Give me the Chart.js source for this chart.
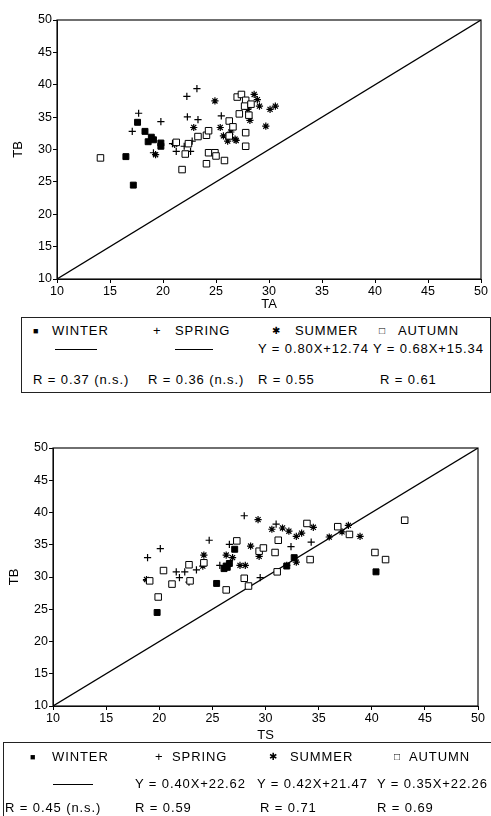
<!DOCTYPE html>
<html>
<head>
<meta charset="utf-8">
<script src="https://cdn.jsdelivr.net/npm/chart.js@4/dist/chart.umd.min.js"></script>
<style>
  html,body{margin:0;padding:0;background:#fff;}
  body{width:491px;height:816px;position:relative;overflow:hidden;font-family:"Liberation Sans",Arial,sans-serif;color:#000;}
  canvas{position:absolute;left:0;}
  .box{position:absolute;border:1px solid #222;box-sizing:border-box;}
  .t{position:absolute;font-size:13px;line-height:14px;letter-spacing:0.9px;white-space:nowrap;}
  .ln{position:absolute;height:0;border-top:1.2px solid #000;}
  .mk{position:absolute;font-size:12px;line-height:14px;white-space:nowrap;}
</style>
</head>
<body>
<canvas id="c1" width="491" height="312" style="top:0px"></canvas>
<canvas id="c2" width="491" height="330" style="top:420px"></canvas>
<div id="leg"></div>
<script>
// ---------- data ----------
const seasons = ['WINTER', 'SPRING', 'SUMMER', 'AUTUMN'];
const axisTicks = [10, 15, 20, 25, 30, 35, 40, 45, 50];
const diagonal = [10, 50];

// Top panel: TA (x) vs TB (y)
const winterTA = [17.6, 16.5, 17.2, 18.3, 18.6, 18.9, 19.1, 19.8, 19.8];
const winterTB1 = [34.2, 28.9, 24.5, 32.8, 31.2, 31.9, 31.5, 31.0, 30.5];
const springTA = [17.7, 17.1, 19.8, 19.1, 22.25, 23.2, 22.3, 23.3, 20.9, 21.25, 22.0, 22.75, 25.5, 22.6];
const springTB1 = [35.6, 32.8, 34.3, 29.5, 38.2, 39.4, 35.05, 34.6, 30.9, 29.7, 30.5, 31.3, 35.2, 29.7];
const summerTA = [24.9, 22.9, 25.4, 25.7, 26.1, 26.8, 26.4, 26.9, 28.6, 28.9, 28.1, 28.0, 29.1, 28.2, 30.1, 30.6, 29.7, 21.1, 19.3, 27.8];
const summerTB1 = [37.5, 33.4, 33.4, 32.1, 31.3, 31.6, 32.7, 31.4, 38.5, 37.7, 36.7, 36.2, 36.7, 34.5, 36.2, 36.7, 33.6, 30.8, 29.2, 37.2];
const autumnTA = [14.1, 21.8, 21.25, 22.1, 22.4, 23.3, 24.1, 24.3, 24.1, 24.3, 24.9, 25.0, 25.8, 26.25, 26.6, 27.0, 27.4, 27.8, 27.2, 28.1, 27.8, 27.8, 27.7, 28.3, 26.25];
const autumnTB1 = [28.7, 26.9, 31.1, 29.3, 30.9, 32.0, 32.2, 32.9, 27.8, 29.5, 29.5, 29.0, 28.3, 34.4, 33.5, 38.1, 38.5, 37.6, 35.5, 35.3, 32.6, 30.5, 36.7, 37.0, 32.1];

// Bottom panel: TS (x) vs TB (y)
const winterTS = [19.8, 25.4, 26.3, 26.1, 26.6, 27.1, 32.0, 32.7, 40.4, 26.4];
const winterTB2 = [24.5, 29.0, 31.7, 31.3, 32.1, 34.3, 31.7, 33.0, 30.8, 31.5];
const springTS = [18.9, 20.1, 18.8, 21.6, 21.9, 22.4, 22.8, 23.5, 24.7, 25.7, 26.6, 28.0, 31.0, 32.4, 34.3, 29.5];
const springTB2 = [33.0, 34.4, 29.5, 30.8, 29.9, 30.8, 29.2, 31.1, 35.7, 31.8, 35.05, 39.5, 38.2, 34.7, 35.4, 29.9];
const summerTS = [18.8, 24.2, 26.3, 27.6, 28.1, 28.6, 29.3, 29.4, 30.6, 31.6, 32.2, 32.9, 33.4, 34.5, 36.0, 37.2, 37.8, 38.9, 32.0, 32.9, 24.1, 26.9];
const summerTB2 = [29.6, 33.4, 33.4, 31.8, 31.8, 34.8, 38.9, 33.2, 37.4, 37.6, 37.1, 36.3, 36.8, 37.7, 36.2, 37.0, 38.0, 36.3, 31.8, 32.3, 31.7, 33.0];
const autumnTS = [19.1, 19.9, 20.4, 21.2, 22.8, 22.9, 24.2, 26.3, 27.3, 28.0, 28.4, 29.4, 29.8, 30.9, 31.2, 31.1, 33.9, 34.2, 36.8, 37.9, 40.3, 41.3, 43.1];
const autumnTB2 = [29.4, 26.9, 31.0, 28.9, 31.9, 29.4, 32.2, 28.0, 35.6, 29.8, 28.6, 34.0, 34.5, 33.8, 35.7, 30.8, 38.3, 32.7, 37.8, 36.6, 33.8, 32.7, 38.8];

// Legend texts
const topEquations = ['', '', 'Y = 0.80X+12.74', 'Y = 0.68X+15.34'];
const topR = ['R = 0.37 (n.s.)', 'R = 0.36 (n.s.)', 'R = 0.55', 'R = 0.61'];
const botEquations = ['', 'Y = 0.40X+22.62', 'Y = 0.42X+21.47', 'Y = 0.35X+22.26'];
const botR = ['R = 0.45 (n.s.)', 'R = 0.59', 'R = 0.71', 'R = 0.69'];

// ---------- helpers ----------
const pair = (xs, ys) => xs.map((x, i) => ({x: x, y: ys[i]}));
const FONT = '"Liberation Sans", Arial, sans-serif';

const framePlugin = {
  id: 'frame',
  beforeDatasetsDraw(chart) {
    const {ctx, chartArea: a} = chart;
    ctx.save();
    ctx.strokeStyle = '#111';
    ctx.lineWidth = 1.2;
    ctx.strokeRect(a.left, a.top, a.right - a.left, a.bottom - a.top);
    ctx.restore();
  }
};

function makeChart(id, sets, xTitle, lay) {
  const styles = [
    {pointStyle: 'rect', radius: 4.2, bg: '#000', bc: '#000', bw: 1},
    {pointStyle: 'cross', radius: 3.6, bg: '#000', bc: '#000', bw: 1.2},
    {pointStyle: 'star', radius: 3.6, bg: '#000', bc: '#000', bw: 1.2},
    {pointStyle: 'rect', radius: 4.6, bg: '#fff', bc: '#000', bw: 1}
  ];
  const datasets = [{
    type: 'line',
    data: pair(diagonal, diagonal),
    borderColor: '#000', borderWidth: 1.3, pointRadius: 0, fill: false, order: 10
  }];
  sets.forEach((s, i) => {
    datasets.push({
      type: 'scatter',
      label: seasons[i],
      data: pair(s[0], s[1]),
      pointStyle: styles[i].pointStyle,
      pointRadius: styles[i].radius,
      pointBackgroundColor: styles[i].bg,
      pointBorderColor: styles[i].bc,
      pointBorderWidth: styles[i].bw,
      order: 4 - i
    });
  });
  const tickFont = {family: FONT, size: 12.5};
  return new Chart(document.getElementById(id), {
    data: {datasets},
    plugins: [framePlugin],
    options: {
      responsive: false, animation: false,
      layout: {padding: {left: 0, right: lay.right, top: lay.top, bottom: 0}},
      plugins: {legend: {display: false}, tooltip: {enabled: false}},
      scales: {
        x: {
          type: 'linear', min: 10, max: 50,
          afterBuildTicks: s => { s.ticks = axisTicks.map(v => ({value: v})); },
          ticks: {color: '#000', font: tickFont, padding: 1, maxRotation: 0},
          grid: {drawOnChartArea: false, drawTicks: true, tickLength: 4, color: '#000'},
          border: {display: true, color: '#000', width: 1},
          title: {display: true, text: xTitle, color: '#000', font: {family: FONT, size: 13}, padding: {top: 0, bottom: lay.xTitlePad}},
          afterFit: s => { s.height = lay.xHeight; }
        },
        y: {
          type: 'linear', min: 10, max: 50,
          afterBuildTicks: s => { s.ticks = axisTicks.map(v => ({value: v})); },
          ticks: {color: '#000', font: tickFont, padding: 1},
          grid: {drawOnChartArea: false, drawTicks: true, tickLength: 4, color: '#000'},
          border: {display: true, color: '#000', width: 1},
          title: {display: true, text: 'TB', color: '#000', font: {family: FONT, size: 13}, padding: {top: lay.yTitlePad, bottom: 0}},
          afterFit: s => { s.width = lay.left; }
        }
      }
    }
  });
}

makeChart('c1', [[winterTA, winterTB1], [springTA, springTB1], [summerTA, summerTB1], [autumnTA, autumnTB1]], 'TA',
  {left: 57, right: 10, top: 20, xHeight: 33, xTitlePad: 0, yTitlePad: 11});
makeChart('c2', [[winterTS, winterTB2], [springTS, springTB2], [summerTS, summerTB2], [autumnTS, autumnTB2]], 'TS',
  {left: 53, right: 13, top: 28, xHeight: 44, xTitlePad: 7, yTitlePad: 7});

// ---------- legend tables ----------
const leg = document.getElementById('leg');
function add(cls, left, ycenter, text, extra) {
  const d = document.createElement('div');
  d.className = cls;
  d.style.left = left + 'px';
  d.style.top = (ycenter - 7) + 'px';
  d.textContent = text;
  if (extra) Object.assign(d.style, extra);
  leg.appendChild(d);
  return d;
}
function line(x1, x2, y) {
  const d = document.createElement('div');
  d.className = 'ln';
  d.style.left = x1 + 'px'; d.style.width = (x2 - x1) + 'px'; d.style.top = y + 'px';
  leg.appendChild(d);
}
function box(l, t, w, h) {
  const d = document.createElement('div');
  d.className = 'box';
  Object.assign(d.style, {left: l + 'px', top: t + 'px', width: w + 'px', height: h + 'px'});
  leg.appendChild(d);
}
const markers = ['\u25A0', '+', '\u2731', '\u25A1'];
const markerStyle = [{fontSize: '9px'}, {fontSize: '13px'}, {fontSize: '10px'}, {fontSize: '10px'}];

function legend(cfg) {
  box(cfg.box[0], cfg.box[1], cfg.box[2], cfg.box[3]);
  seasons.forEach((s, i) => {
    add('mk', cfg.mkX[i], cfg.rows[0], markers[i], markerStyle[i]);
    add('t', cfg.nameX[i], cfg.rows[0], s);
  });
  cfg.lines.forEach(l => line(l[0], l[1], cfg.rows[1]));
  cfg.eq.forEach((e, i) => { if (e) add('t', cfg.eqX[i], cfg.rows[1], e); });
  cfg.r.forEach((r, i) => add('t', cfg.rX[i], cfg.rows[2], r));
}
legend({box: [21, 317, 470, 76], rows: [331, 349, 380],
  mkX: [33, 153, 272, 379], nameX: [52, 175, 295, 398],
  lines: [[55, 97], [175, 213]], eq: topEquations, eqX: [0, 0, 258, 373],
  r: topR, rX: [33, 148, 258, 380]});
legend({box: [3, 742, 490, 80], rows: [757, 784, 808],
  mkX: [30, 155, 269, 394], nameX: [52, 172, 290, 409],
  lines: [[53, 93]], eq: botEquations, eqX: [0, 135, 257, 377],
  r: botR, rX: [5, 135, 260, 377]});
</script>
</body>
</html>
